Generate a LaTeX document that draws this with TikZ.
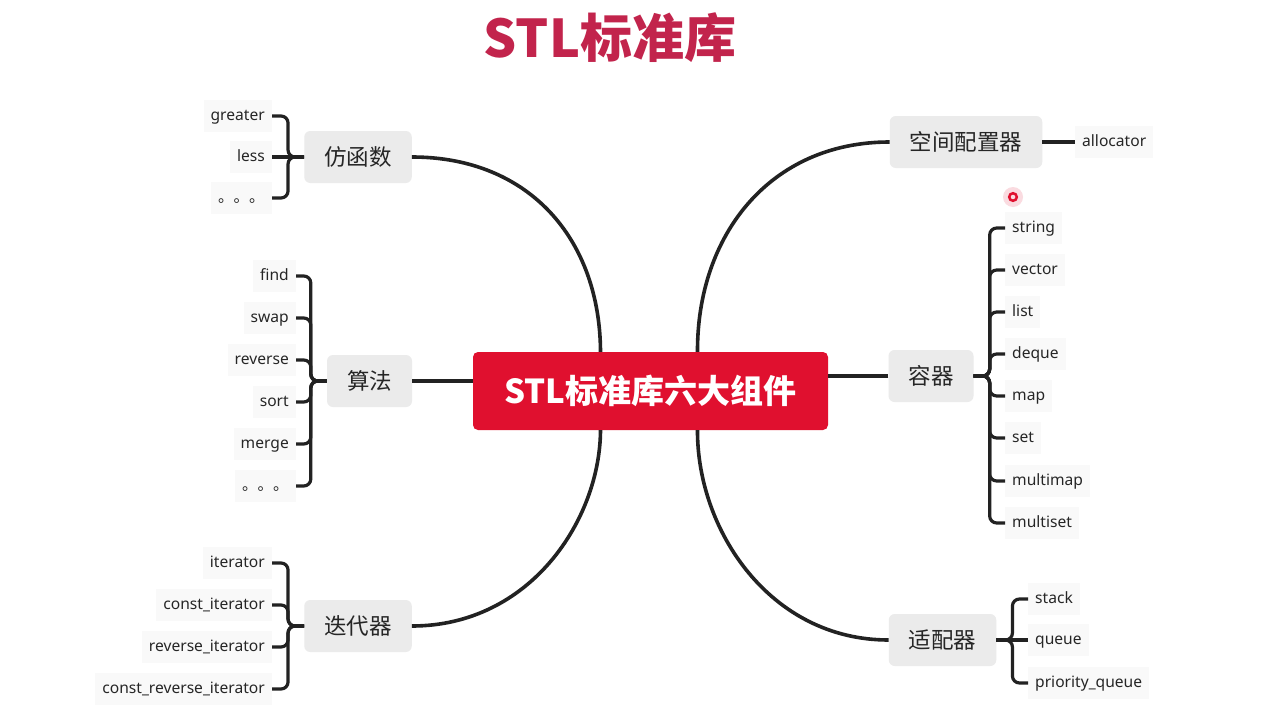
\documentclass[tikz,border=0pt]{standalone}
\usepackage{fontspec}
\setmainfont{Noto Sans CJK SC}
\newfontfamily\leaffont{Noto Sans}
\usetikzlibrary{calc}
\definecolor{centerred}{HTML}{E0102F}
\definecolor{titlered}{HTML}{C2244C}
\definecolor{branchgray}{HTML}{EBEBEB}
\definecolor{leafgray}{HTML}{F9F9F9}
\definecolor{linedark}{HTML}{222222}
\definecolor{textdark}{HTML}{262626}
\begin{document}
\begin{tikzpicture}[x=1pt,y=-1pt,
 centerbox/.style={fill=centerred, rounded corners=5pt, minimum width=355pt, minimum height=78pt, text=white, inner sep=0pt, font=\fontsize{33}{36}\selectfont\bfseries},
 branchbox/.style={fill=branchgray, rounded corners=6pt, minimum height=52pt, inner xsep=20pt, inner ysep=0pt, font=\fontsize{22.5}{26}\selectfont, text=textdark},
 leafbox/.style={fill=leafgray, minimum height=32pt, inner xsep=7pt, inner ysep=0pt, text height=11.5pt, text depth=3.5pt, font=\leaffont\fontsize{15.6}{18}\selectfont, text=textdark},
 mainlink/.style={draw=linedark, line width=3.6pt},
 leaflink/.style={draw=linedark, line width=3.2pt, rounded corners=7pt},
]
\fill[white] (0,0) rectangle (1280,720);
\useasboundingbox (0,0) rectangle (1280,720);

% title
\node[text=titlered, font=\fontsize{52}{56}\selectfont\bfseries] (title) at (610,38) {STL标准库};

% center
\node[centerbox] (c) at (650.5,391) {STL标准库六大组件};

% branches
\node[branchbox] (fh) at (358,157) {仿函数};
\node[branchbox] (sf) at (369.5,381) {算法};
\node[branchbox] (dd) at (358,626) {迭代器};
\node[branchbox] (kj) at (966,142) {空间配置器};
\node[branchbox] (rq) at (931,376) {容器};
\node[branchbox] (sp) at (942.5,640) {适配器};

% main links
\draw[mainlink] (fh.east) .. controls (530,157) and (600,240) .. ($(c.north)+(-50,0)$);
\draw[mainlink] (kj.west) .. controls (770,142) and (697,235) .. ($(c.north)+(47,0)$);
\draw[mainlink] (dd.east) .. controls (530,626) and (600,520) .. ($(c.south)+(-50,0)$);
\draw[mainlink] (sp.west) .. controls (770,640) and (697,530) .. ($(c.south)+(47,0)$);
\draw[mainlink] (sf.east) -- (sf.east -| c.west);
\draw[mainlink] (rq.west) -- (rq.west -| c.east);

% leaves: 仿函数
\node[leafbox, anchor=east] (f1) at (272,116) {greater};
\node[leafbox, anchor=east] (f2) at (272,157) {less};
\node[leafbox, anchor=east] (f3) at (272,198) {\fontspec{Noto Sans CJK SC}。。。};
\draw[leaflink] (fh.west) -- ++(-16,0) |- (f1.east);
\draw[leaflink] (fh.west) -- (f2.east);
\draw[leaflink] (fh.west) -- ++(-16,0) |- (f3.east);

% leaves: 算法
\node[leafbox, anchor=east] (s1) at (296,276) {find};
\node[leafbox, anchor=east] (s2) at (296,318) {swap};
\node[leafbox, anchor=east] (s3) at (296,360) {reverse};
\node[leafbox, anchor=east] (s4) at (296,402) {sort};
\node[leafbox, anchor=east] (s5) at (296,444) {merge};
\node[leafbox, anchor=east] (s6) at (296,486) {\fontspec{Noto Sans CJK SC}。。。};
\foreach \n in {s1,s2,s3,s4,s5,s6}{
  \draw[leaflink] (sf.west) -- ++(-16,0) |- (\n.east);
}

% leaves: 迭代器
\node[leafbox, anchor=east] (d1) at (272,563) {iterator};
\node[leafbox, anchor=east] (d2) at (272,605) {const\_iterator};
\node[leafbox, anchor=east] (d3) at (272,647) {reverse\_iterator};
\node[leafbox, anchor=east] (d4) at (272,689) {const\_reverse\_iterator};
\foreach \n in {d1,d2,d3,d4}{
  \draw[leaflink] (dd.west) -- ++(-16,0) |- (\n.east);
}

% leaves: 空间配置器
\node[leafbox, anchor=west] (k1) at (1075,142) {allocator};
\draw[leaflink] (kj.east) -- (k1.west);

% leaves: 容器
\node[leafbox, anchor=west] (r1) at (1005,228) {string};
\node[leafbox, anchor=west] (r2) at (1005,270) {vector};
\node[leafbox, anchor=west] (r3) at (1005,312) {list};
\node[leafbox, anchor=west] (r4) at (1005,354) {deque};
\node[leafbox, anchor=west] (r5) at (1005,396) {map};
\node[leafbox, anchor=west] (r6) at (1005,438) {set};
\node[leafbox, anchor=west] (r7) at (1005,481) {multimap};
\node[leafbox, anchor=west] (r8) at (1005,523) {multiset};
\foreach \n in {r1,r2,r3,r4,r5,r6,r7,r8}{
  \draw[leaflink] (rq.east) -- ++(16,0) |- (\n.west);
}

% leaves: 适配器
\node[leafbox, anchor=west] (a1) at (1028,599) {stack};
\node[leafbox, anchor=west] (a2) at (1028,640) {queue};
\node[leafbox, anchor=west] (a3) at (1028,683) {priority\_queue};
\draw[leaflink] (sp.east) -- ++(16,0) |- (a1.west);
\draw[leaflink] (sp.east) -- (a2.west);
\draw[leaflink] (sp.east) -- ++(16,0) |- (a3.west);

% cursor highlight
\fill[centerred!15] (1013,197) circle (10);
\draw[centerred, line width=2.5pt] (1013,197) circle (3.8);
\end{tikzpicture}
\end{document}
